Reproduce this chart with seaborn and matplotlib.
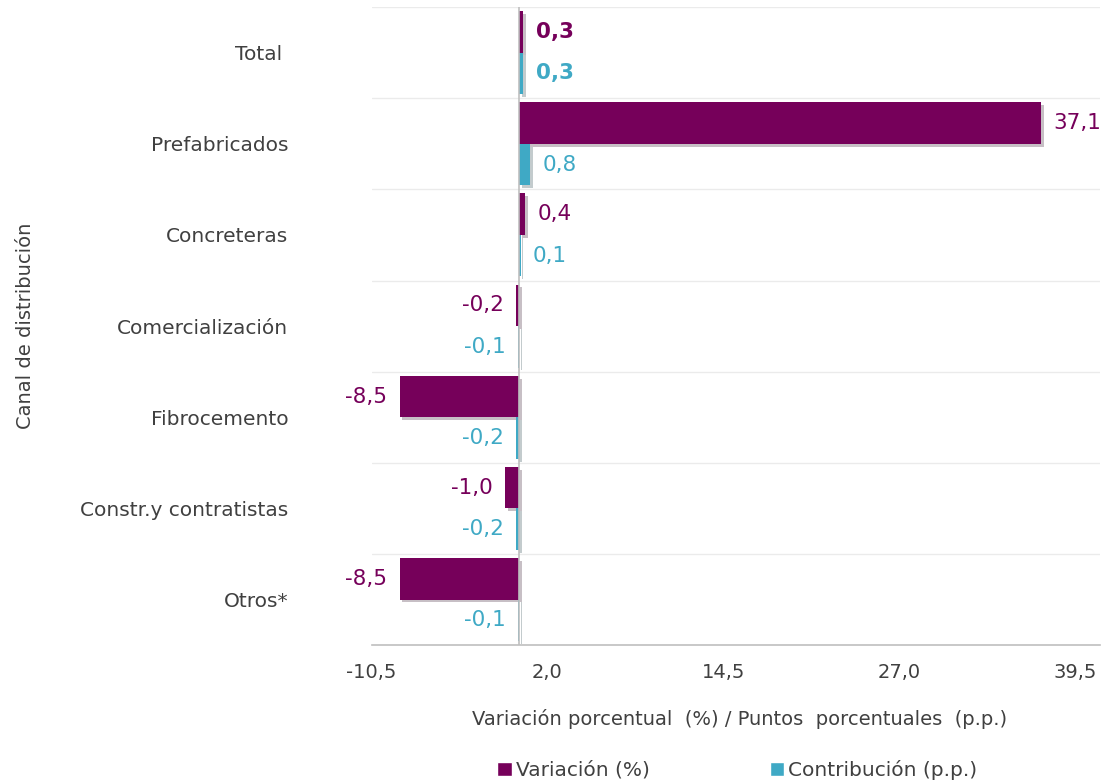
import pandas as pd
import matplotlib.pyplot as plt
import matplotlib.patheffects as pe
from matplotlib.patches import Patch
import seaborn as sns

# Datos
canales = ['Total ', 'Prefabricados', 'Concreteras', 'Comercialización',
           'Fibrocemento', 'Constr.y contratistas', 'Otros*']
variacion = [0.3, 37.1, 0.4, -0.2, -8.5, -1.0, -8.5]
contribucion = [0.3, 0.8, 0.1, -0.1, -0.2, -0.2, -0.1]
series = ['Variación (%)', 'Contribución (p.p.)']
ticks_x = [-10.5, 2.0, 14.5, 27.0, 39.5]

morado = '#76005A'
turquesa = '#3FA9C5'
gris = '#404040'

df = pd.DataFrame({
    'canal': canales * 2,
    'valor': variacion + contribucion,
    'serie': [series[0]] * len(canales) + [series[1]] * len(canales),
})

sns.set_style('white')
plt.rcParams['font.family'] = ['DejaVu Sans']

fig = plt.figure(figsize=(11.09, 7.84), dpi=100)
ax = fig.add_axes([0.335, 0.177, 0.657, 0.814])

sns.barplot(data=df, x='valor', y='canal', hue='serie', orient='h',
            palette=[morado, turquesa], width=0.91, ax=ax, legend=False,
            saturation=1, edgecolor='none')

sombra = [pe.SimplePatchShadow(offset=(2, -2), alpha=0.25), pe.Normal()]
for cont in ax.containers:
    for barra in cont:
        barra.set_path_effects(sombra)

colores = [morado, turquesa]
valores = [variacion, contribucion]
for cont, col, vals in zip(ax.containers, colores, valores):
    etiquetas = [f'{v:.1f}'.replace('.', ',') for v in vals]
    textos = ax.bar_label(cont, labels=etiquetas, padding=9, color=col, fontsize=15.5)
    textos[0].set_fontweight('bold')

ax.set_xlim(-10.5, 41.3)
ax.set_ylim(len(canales) - 0.5, -0.5)
ax.set_xticks(ticks_x)
ax.set_xticklabels([f'{t:.1f}'.replace('.', ',') for t in ticks_x])

# líneas entre categorías
for i in range(len(canales) + 1):
    ax.axhline(i - 0.5, color='#EBEBEB', lw=1, zorder=0)
ax.axvline(0, color='#BFBFBF', lw=1.2, zorder=3)

for lado in ['left', 'right', 'top']:
    ax.spines[lado].set_visible(False)
ax.spines['bottom'].set_color('#BFBFBF')
ax.spines['bottom'].set_linewidth(1.2)

ax.tick_params(axis='x', colors='#BFBFBF', length=5, width=1, pad=8,
               labelcolor=gris, labelsize=14)
ax.tick_params(axis='y', length=0, pad=60, labelcolor=gris, labelsize=14.5)

ax.set_xlabel('Variación porcentual  (%) / Puntos  porcentuales  (p.p.)',
              fontsize=14, color=gris)
ax.xaxis.set_label_coords(0.505, -0.1)
ax.set_ylabel('Canal de distribución', fontsize=14, color=gris)
ax.yaxis.set_label_coords(-0.462, 0.5)

handles = [Patch(facecolor=morado), Patch(facecolor=turquesa)]
fig.legend(handles, series, loc='lower center', bbox_to_anchor=(0.665, -0.018),
           ncol=2, frameon=False, fontsize=14.5, handlelength=0.7, handleheight=0.7,
           handletextpad=0.2, columnspacing=6, labelcolor=gris)

fig.savefig('out.png', dpi=100)
